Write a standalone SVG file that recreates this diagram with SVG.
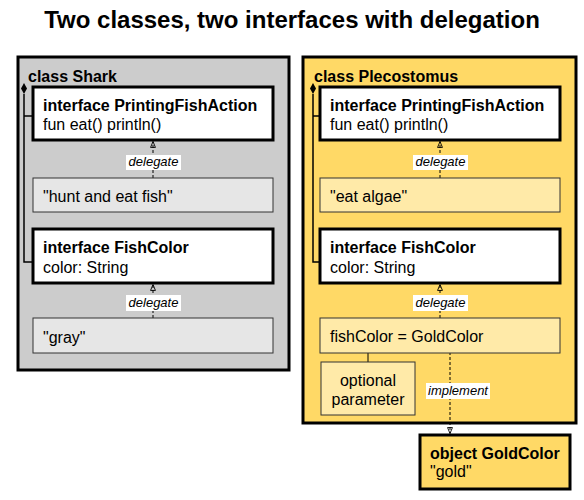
<svg xmlns="http://www.w3.org/2000/svg" width="584" height="500" viewBox="0 0 584 500">
<defs>
<marker id="arr" viewBox="0 0 10 10" refX="9.5" refY="5" markerWidth="7" markerHeight="7" orient="auto" markerUnits="userSpaceOnUse">
<path d="M9.5,5 L1,1.5 L1,8.5 Z" fill="none" stroke="#000" stroke-width="1.3"/>
</marker>
</defs>
<style>
text{font-family:"Liberation Sans",Arial,sans-serif;fill:#000}
.t{font-size:24px;font-weight:bold}
.b{font-size:16px;font-weight:bold}
.r{font-size:16px}
.i{font-size:13px;font-style:italic}
.outerS{fill:#cccccc;stroke:#000;stroke-width:3}
.outerP{fill:#ffd966;stroke:#000;stroke-width:3}
.iface{fill:#fff;stroke:#000;stroke-width:3}
.valS{fill:#e6e6e6;stroke:#333;stroke-width:1}
.valP{fill:#ffeaa8;stroke:#333;stroke-width:1}
.lbl{fill:#fff}
.dash{stroke:#000;stroke-width:1;stroke-dasharray:3,2;fill:none}
.solid{stroke:#000;stroke-width:1.5;fill:none}
</style>
<text class="t" x="292" y="28" text-anchor="middle">Two classes, two interfaces with delegation</text>

<g id="shark">
<rect class="outerS" x="18" y="57" width="271" height="313"/>
<text class="b" x="28" y="82">class Shark</text>
</g>
<g id="plecostomus">
<rect class="outerP" x="303" y="57" width="273" height="366"/>
<text class="b" x="314" y="82">class Plecostomus</text>
</g>

<g id="connectors">
<path class="solid" d="M24,94 V262 H33 M24,116 H33"/>
<path d="M24,83 L27,88.5 L24,94 L21,88.5 Z" fill="#000"/>
<path class="solid" d="M313,94 V262 H320 M313,116 H320"/>
<path d="M313,83 L316,88.5 L313,94 L310,88.5 Z" fill="#000"/>
<line class="dash" x1="153" y1="178" x2="153" y2="141.5" marker-end="url(#arr)"/>
<rect class="lbl" x="126" y="155" width="55" height="15"/>
<text class="i" x="153.5" y="166" text-anchor="middle">delegate</text>
<line class="dash" x1="153" y1="318" x2="153" y2="284.5" marker-end="url(#arr)"/>
<rect class="lbl" x="126" y="295" width="55" height="16"/>
<text class="i" x="153.5" y="307" text-anchor="middle">delegate</text>
<line class="dash" x1="440" y1="178" x2="440" y2="141.5" marker-end="url(#arr)"/>
<rect class="lbl" x="413" y="155" width="55" height="15"/>
<text class="i" x="440.5" y="166" text-anchor="middle">delegate</text>
<line class="dash" x1="440" y1="318" x2="440" y2="284.5" marker-end="url(#arr)"/>
<rect class="lbl" x="413" y="295" width="55" height="16"/>
<text class="i" x="440.5" y="307" text-anchor="middle">delegate</text>
<line x1="368" y1="346" x2="368" y2="362" stroke="#000" stroke-width="1"/>
<line class="dash" x1="450" y1="347" x2="450" y2="433.5" marker-end="url(#arr)"/>
<rect class="lbl" x="426" y="383" width="64" height="16"/>
<text class="i" x="458" y="395" text-anchor="middle">implement</text>
</g>

<g id="shark-pfa">
<rect class="iface" x="33" y="87" width="240" height="53"/>
<text class="b" x="43" y="111">interface PrintingFishAction</text>
<text class="r" x="43" y="130">fun eat() println()</text>
</g>
<g id="shark-hunt">
<rect class="valS" x="33" y="178" width="240" height="34"/>
<text class="r" x="43" y="202">"hunt and eat fish"</text>
</g>
<g id="shark-fishcolor">
<rect class="iface" x="33" y="229" width="240" height="54"/>
<text class="b" x="43" y="253">interface FishColor</text>
<text class="r" x="43" y="273">color: String</text>
</g>
<g id="shark-gray">
<rect class="valS" x="33" y="318" width="240" height="35"/>
<text class="r" x="43" y="343">"gray"</text>
</g>

<g id="pleco-pfa">
<rect class="iface" x="320" y="87" width="240" height="53"/>
<text class="b" x="330" y="111">interface PrintingFishAction</text>
<text class="r" x="330" y="130">fun eat() println()</text>
</g>
<g id="pleco-algae">
<rect class="valP" x="320" y="178" width="240" height="34"/>
<text class="r" x="330" y="202">"eat algae"</text>
</g>
<g id="pleco-fishcolor">
<rect class="iface" x="320" y="229" width="240" height="54"/>
<text class="b" x="330" y="253">interface FishColor</text>
<text class="r" x="330" y="273">color: String</text>
</g>
<g id="pleco-goldparam">
<rect class="valP" x="320" y="318" width="240" height="35"/>
<text class="r" x="330" y="342">fishColor = GoldColor</text>
</g>
<g id="optional-parameter">
<rect class="valP" x="321" y="362" width="94" height="53"/>
<text class="r" x="368" y="386" text-anchor="middle">optional</text>
<text class="r" x="368" y="405" text-anchor="middle">parameter</text>
</g>
<g id="goldcolor">
<rect fill="#ffd966" stroke="#000" stroke-width="3" x="420" y="435" width="150" height="54"/>
<text class="b" x="430" y="459">object GoldColor</text>
<text class="r" x="430" y="477">"gold"</text>
</g>
</svg>
